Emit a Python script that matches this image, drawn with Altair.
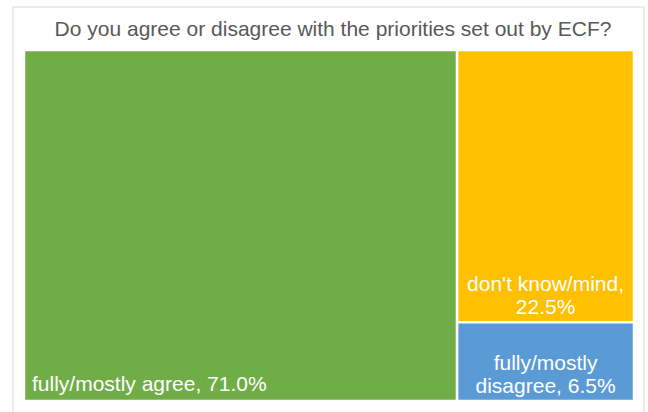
import altair as alt
import pandas as pd

categories = ["fully/mostly agree", "don't know/mind", "fully/mostly disagree"]
values = [71.0, 22.5, 6.5]
labels = ["fully/mostly agree, 71.0%", "don't know/mind,\n22.5%", "fully/mostly\ndisagree, 6.5%"]
colors = ["#70AD47", "#FFC000", "#5B9BD5"]
title = "Do you agree or disagree with the priorities set out by ECF?"

# simple treemap layout: largest item fills the first column, the rest stack in the second
total = sum(values)
first_w = values[0] / total * 100
rest = sum(values[1:])
rows = [dict(cat=categories[0], label=labels[0], x0=0.0, x1=first_w, y0=0.0, y1=1.0,
             xm=(first_w) / 2, anchor="left")]
yc = 0.0
for c, v, l in zip(categories[1:], values[1:], labels[1:]):
    h = v / rest
    rows.append(dict(cat=c, label=l, x0=first_w, x1=100.0, y0=yc, y1=yc + h,
                     xm=(first_w + 100.0) / 2, anchor="center"))
    yc += h
df = pd.DataFrame(rows)

xs = alt.Scale(domain=[0, 100], nice=False, zero=False)
ys = alt.Scale(domain=[0, 1], nice=False, zero=False, reverse=True)

frame = alt.Chart(pd.DataFrame({"a": [0]})).mark_rect(
    fill="white", stroke="#D9D9D9", strokeWidth=1
).encode(x=alt.value(-11), x2=alt.value(620), y=alt.value(-43), y2=alt.value(380))

rects = alt.Chart(df).mark_rect(stroke="white", strokeWidth=2.5).encode(
    x=alt.X("x0:Q", scale=xs, axis=None),
    x2="x1:Q",
    y=alt.Y("y0:Q", scale=ys, axis=None),
    y2="y1:Q",
    color=alt.Color("cat:N", scale=alt.Scale(domain=categories, range=colors), legend=None),
)

text_left = alt.Chart(df).transform_filter("datum.anchor == 'left'").mark_text(
    align="left", baseline="bottom", dx=8, dy=-6, color="white",
    font="Liberation Sans", fontSize=21, lineBreak="\n", lineHeight=23
).encode(x=alt.X("x0:Q", scale=xs, axis=None), y=alt.Y("y1:Q", scale=ys, axis=None), text="label:N")

text_center = alt.Chart(df).transform_filter("datum.anchor == 'center'").mark_text(
    align="center", baseline="bottom", dy=-27, color="white",
    font="Liberation Sans", fontSize=21, lineBreak="\n", lineHeight=23
).encode(x=alt.X("xm:Q", scale=xs, axis=None), y=alt.Y("y1:Q", scale=ys, axis=None), text="label:N")

chart = alt.layer(frame, rects, text_left, text_center).properties(
    width=610, height=351,
    title=alt.TitleParams(title, fontSize=21, font="Liberation Sans", fontWeight="normal",
                          color="#595959", anchor="middle", offset=-33, dx=4),
    autosize=alt.AutoSizeParams(type="none"),
    padding={"left": 24, "top": 50, "right": 14, "bottom": 11},
    background="white",
).configure_view(strokeWidth=0)

chart.save("out.html", embed_options={"renderer": "svg", "actions": False})
